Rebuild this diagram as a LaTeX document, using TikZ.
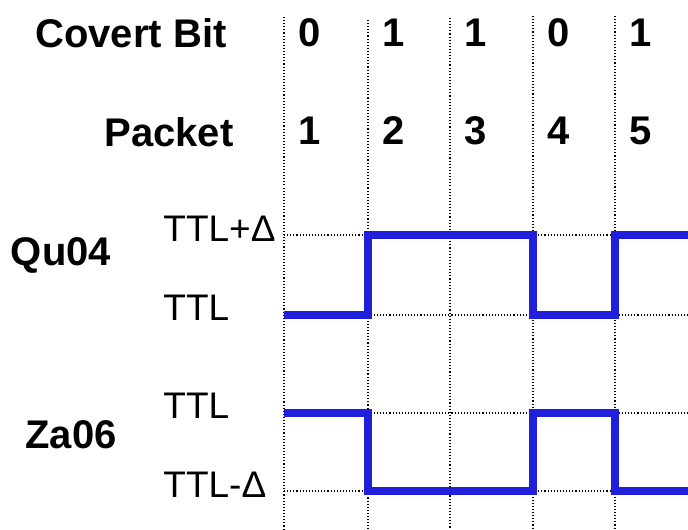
\documentclass[tikz,border=0pt]{standalone}
\usepackage{fontspec}
\setmainfont{Liberation Sans}
\definecolor{sigblue}{RGB}{32,32,220}

\begin{document}
\begin{tikzpicture}[x=0.5pt,y=-0.5pt,
    head/.style={font=\bfseries\fontsize{20}{24}\selectfont, inner sep=0pt},
    level/.style={font=\fontsize{18.5}{22}\selectfont, inner sep=0pt, anchor=base west},
    guide/.style={densely dotted, line width=0.55pt},
    wave/.style={sigblue, line width=3.6pt, line join=miter}]
    \useasboundingbox (0,0) rectangle (688,529);

    % Titres des lignes
    \node[head] (covert) at (131,33) {Covert Bit};
    \node[head] (packet) at (169,132) {Packet};
    \node[head] (qu) at (61,255) {Qu04};
    \node[head] (za) at (71,435) {Za06};

    % Colonnes : bit caché et numéro de paquet
    \foreach \x/\top/\bit/\num in {284/17/0/1, 368/20/1/2, 450/18/1/3, 533/16/0/4, 615/16/1/5} {
        \coordinate (top\num) at (\x,\top);
        \coordinate (bot\num) at (\x,529);
        \draw[guide] (top\num) -- (bot\num);
        \node[head] (bit\num) at (\x+26,33) {\bit};
        \node[head] (pkt\num) at (\x+26,131) {\num};
    }

    % Niveaux de TTL
    \node[level] (quhi) at (163,241) {TTL+Δ};
    \node[level] (qulo) at (163,320) {TTL};
    \node[level] (zahi) at (163,418) {TTL};
    \node[level] (zalo) at (163,497) {TTL-Δ};
    \foreach \lv/\y in {quhi/235, qulo/315, zahi/413, zalo/491} {
        \coordinate (\lv-a) at (284,\y);
        \coordinate (\lv-b) at (688,\y);
        \draw[guide] (\lv-a) -- (\lv-b);
    }

    % Signal Qu04 (1 -> TTL+Delta)
    \draw[wave] (qulo-a) -- (368,315) -- (368,235) -- (533,235) -- (533,315)
        -- (615,315) -- (615,235) -- (quhi-b);

    % Signal Za06 (1 -> TTL-Delta)
    \draw[wave] (zahi-a) -- (368,413) -- (368,491) -- (533,491) -- (533,413)
        -- (615,413) -- (615,491) -- (zalo-b);
\end{tikzpicture}
\end{document}
